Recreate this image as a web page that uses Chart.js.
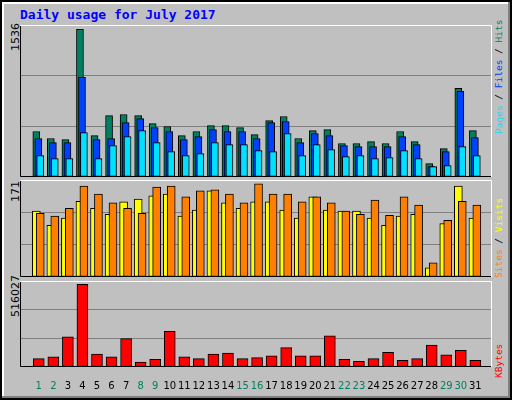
<!DOCTYPE html>
<html><head><meta charset="utf-8">
<script src="https://cdn.jsdelivr.net/npm/chart.js@4"></script>
<style>
body{margin:0;background:#fff;}
#frame{position:absolute;left:0;top:0;width:508px;height:396px;background:#c0c0c0;border:2px solid #000;box-shadow:inset -2px -2px 0 #808080, inset 2px 2px 0 #fff;}
.p{position:absolute;}
.t{position:absolute;font-family:"DejaVu Sans Mono",monospace;white-space:nowrap;line-height:1;}
.rot{transform-origin:0 0;transform:rotate(-90deg);}
</style></head><body>
<div id="frame"></div>
<div class="t" style="left:20px;top:8px;font-size:13px;font-weight:bold;color:#0000ff;">Daily usage for July 2017</div>
<div class="t rot" style="left:10px;top:51px;font-size:11px;font-family:'DejaVu Sans';color:#000;">1536</div>
<div class="t rot" style="left:10px;top:202px;font-size:11px;font-family:'DejaVu Sans';color:#000;">171</div>
<div class="t rot" style="left:10px;top:317px;font-size:11px;font-family:'DejaVu Sans';color:#000;">516027</div>
<div class="t rot" style="left:494px;top:134px;font-size:9.5px;"><span style="color:#00e0ff">Pages</span><span style="color:#000"> / </span><span style="color:#0040ff">Files</span><span style="color:#000"> / </span><span style="color:#008060">Hits</span></div>
<div class="t rot" style="left:494px;top:278px;font-size:9.5px;"><span style="color:#ff8000">Sites</span><span style="color:#000"> / </span><span style="color:#ffff00">Visits</span></div>
<div class="t rot" style="left:494px;top:378px;font-size:9.5px;color:#ff0000;">KBytes</div>
<div class="p" style="left:20px;top:25px;width:472px;height:152px;"><canvas id="c1"></canvas></div>
<div class="p" style="left:20px;top:180px;width:472px;height:97px;"><canvas id="c2"></canvas></div>
<div class="p" style="left:20px;top:281px;width:472px;height:116px;"><canvas id="c3"></canvas></div>
<script>
const days=[1,2,3,4,5,6,7,8,9,10,11,12,13,14,15,16,17,18,19,20,21,22,23,24,25,26,27,28,29,30,31];
const weekend=[1,2,8,9,15,16,22,23,29,30];
const hits=[473,400,389,1536,431,639,650,639,556,525,431,473,535,535,514,441,587,629,400,483,493,348,348,368,348,473,368,139,295,921,483];
const files=[400,358,358,1036,389,400,566,608,514,473,389,420,493,473,473,400,566,577,358,452,431,327,316,316,316,420,337,108,264,890,410];
const pages=[222,191,191,462,191,327,420,483,358,264,222,243,358,337,337,275,264,452,222,337,285,212,222,191,202,275,191,108,118,316,222];
const sites=[121,95,108,139,126,115,138,143,149,152,112,123,158,136,126,138,138,123,108,147,123,121,121,108,95,112,115,17,98,167,108];
const visits=[117,112,126,167,152,136,126,117,165,167,147,158,160,152,136,171,152,152,138,147,136,121,115,141,113,147,132,26,104,139,132];
const kbytes=[52700,64000,188300,516027,81000,64000,177000,30100,47100,222200,64000,52700,81000,86600,52700,58400,69700,120500,69700,69700,194000,47100,35800,52700,92300,41400,52700,137500,75300,103600,41400];

const border={id:'border',afterDatasetsDraw(ch){const a=ch.chartArea,c=ch.ctx;c.save();c.lineWidth=1;
 c.strokeStyle='#000';c.beginPath();c.moveTo(a.left+0.5,a.top);c.lineTo(a.left+0.5,a.bottom-0.5);c.lineTo(a.right,a.bottom-0.5);c.stroke();
 c.strokeStyle='#fff';c.beginPath();c.moveTo(a.left,a.top+0.5);c.lineTo(a.right-0.5,a.top+0.5);c.lineTo(a.right-0.5,a.bottom);c.stroke();c.restore();}};
const bg={id:'bg',beforeDraw(ch){const a=ch.chartArea,c=ch.ctx;c.save();c.fillStyle='#c0c0c0';c.fillRect(a.left,a.top,a.right-a.left,a.bottom-a.top);c.restore();}};

function ds(vals,off,color,w,order){return {data:vals.map((v,i)=>({x:days[i]+off,y:v})),backgroundColor:color,borderColor:'#000',borderWidth:1,borderSkipped:false,barThickness:w,grouped:false,order};}
function make(id,datasets,ymax,showX){
 return new Chart(document.getElementById(id),{type:'bar',data:{datasets},plugins:[bg,border],
 options:{responsive:true,maintainAspectRatio:false,animation:false,layout:{padding:0},
  plugins:{legend:{display:false},tooltip:{enabled:false}},
  scales:{
   x:{type:'linear',min:0.233,max:31.62,display:showX,grid:{display:false},border:{display:false},
      afterBuildTicks(s){s.ticks=days.map(d=>({value:d}));},
      ticks:{autoSkip:false,maxRotation:0,padding:5,font:{family:'DejaVu Sans',size:10},
        color:c=>weekend.includes(c.tick.value)?'#008060':'#000',callback:v=>String(v)}},
   y:{min:0,max:ymax,afterBuildTicks(s){s.ticks=[0,1,2,3].map(k=>({value:ymax*k/3}));},
      ticks:{display:false},border:{display:false},
      grid:{drawTicks:false,tickLength:0,color:c=>(c.index===1||c.index===2)?'#808080':'rgba(0,0,0,0)',lineWidth:1}}
  }}});
}
make('c1',[ds(hits,-0.17,'#008060',7,2),ds(files,-0.03,'#0040ff',7,1),ds(pages,0.1,'#00e0ff',7,0)],1581,false);
make('c2',[ds(sites,-0.17,'#ffff00',8,1),ds(visits,0.1,'#ff8000',8,0)],178,false);
make('c3',[ds(kbytes,0,'#ff0000',11,0)],536700,true);
</script></body></html>
